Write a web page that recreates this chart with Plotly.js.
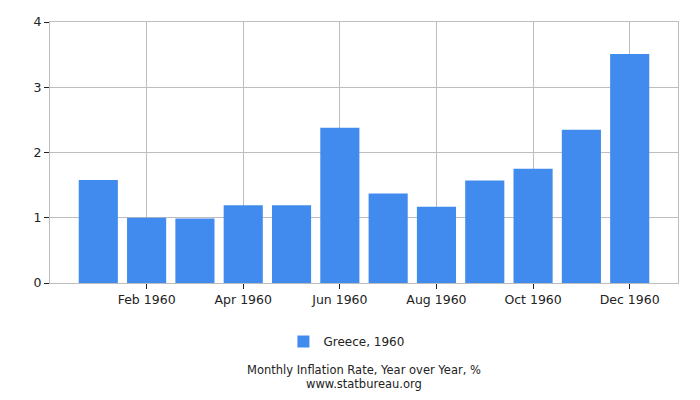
<!DOCTYPE html>
<html>
<head>
<meta charset="utf-8">
<script src="https://cdn.plot.ly/plotly-3.0.1.min.js"></script>
<style>html,body{margin:0;padding:0;background:#fff;}#chart{width:700px;height:400px;}</style>
</head>
<body>
<div id="chart"></div>
<script>
var months = ["Jan 1960","Feb 1960","Mar 1960","Apr 1960","May 1960","Jun 1960","Jul 1960","Aug 1960","Sep 1960","Oct 1960","Nov 1960","Dec 1960"];
var values = [1.58, 1.00, 0.99, 1.19, 1.19, 2.38, 1.37, 1.17, 1.57, 1.75, 2.35, 3.51];
var xTickLabels = ["Feb 1960","Apr 1960","Jun 1960","Aug 1960","Oct 1960","Dec 1960"];
var yTicks = [0, 1, 2, 3, 4];
var seriesName = "Greece, 1960";
var chartTitle = "Monthly Inflation Rate, Year over Year, %";
var source = "www.statbureau.org";

var font = "DejaVu Sans, Verdana, sans-serif";
var data = [{
  type: "bar",
  x: months,
  y: values,
  name: seriesName,
  marker: {color: "#428bee"},
  showlegend: true,
  hoverinfo: "x+y"
}];
var layout = {
  width: 700, height: 400,
  margin: {l: 50, r: 22, t: 22, b: 117},
  paper_bgcolor: "#fff", plot_bgcolor: "#fff",
  font: {family: font, size: 12.5, color: "#222"},
  bargap: 0.19,
  showlegend: true,
  legend: {orientation: "h", x: 0.472, xanchor: "center", y: -0.169, yanchor: "top", font: {size: 12, color: "#222"}},
  xaxis: {
    type: "category",
    range: [-1, 12],
    tickvals: xTickLabels,
    ticktext: xTickLabels,
    showgrid: true, gridcolor: "#bdbdbd", gridwidth: 1,
    ticks: "outside", ticklen: 5, tickcolor: "#222",
    showline: true, linecolor: "#bdbdbd", mirror: true,
    zeroline: false, fixedrange: true
  },
  yaxis: {
    range: [0, 4],
    tickvals: yTicks,
    showgrid: true, gridcolor: "#bdbdbd", gridwidth: 1,
    ticks: "outside", ticklen: 5, tickcolor: "#222",
    showline: true, linecolor: "#bdbdbd", mirror: true,
    zeroline: false, fixedrange: true
  },
  annotations: [
    {text: chartTitle, xref: "paper", yref: "paper", x: 0.5, y: -0.333, xanchor: "center", yanchor: "middle", showarrow: false, font: {size: 11.5, color: "#222"}},
    {text: source, xref: "paper", yref: "paper", x: 0.5, y: -0.387, xanchor: "center", yanchor: "middle", showarrow: false, font: {size: 11.5, color: "#222"}}
  ]
};
Plotly.newPlot("chart", data, layout, {displayModeBar: false, staticPlot: true});
</script>
</body>
</html>
